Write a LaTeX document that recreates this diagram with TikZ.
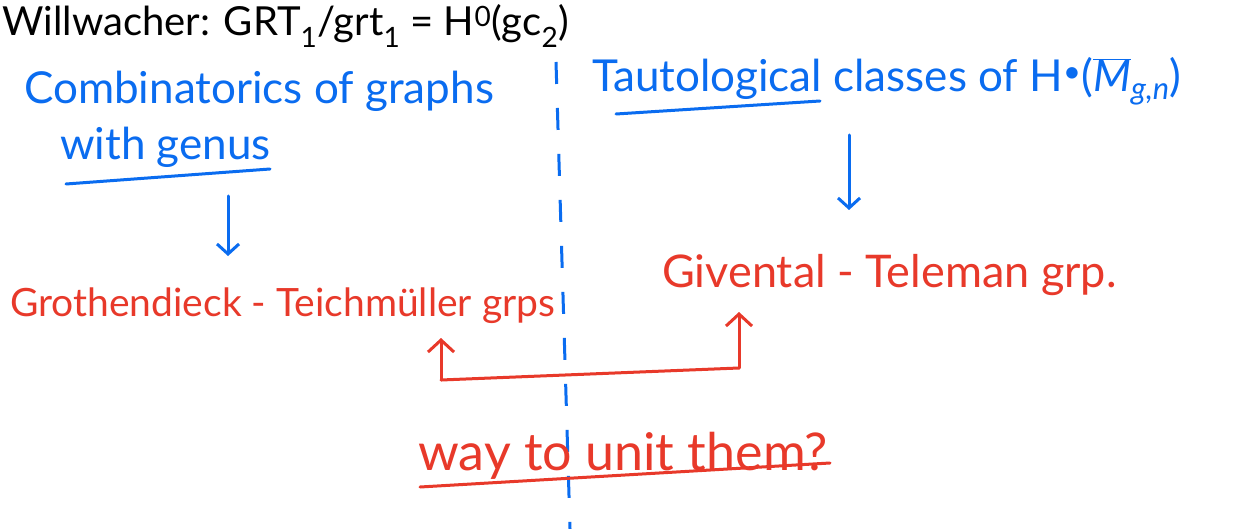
\documentclass[tikz,border=0pt]{standalone}
\usepackage{fontspec}
\setmainfont{Lato}
\usetikzlibrary{arrows.meta}
\definecolor{penblue}{HTML}{0A6CF0}
\definecolor{penred}{HTML}{E8392A}
\tikzset{
  ink/.style={line width=3pt, line cap=round, line join=round},
  bluetxt/.style={text=penblue, inner sep=0pt, anchor=base west},
  redtxt/.style={text=penred, inner sep=0pt, anchor=base west},
  bluearrow/.style={ink, draw=penblue, -{Straight Barb[length=10pt,width=22pt,line width=3pt]}},
  redarrow/.style={ink, draw=penred, -{Straight Barb[length=12pt,width=26pt,line width=3pt]}},
}
\begin{document}
\begin{tikzpicture}[x=1pt,y=-1pt]
\useasboundingbox (0,0) rectangle (1233,529);
\fill[white] (0,0) rectangle (1233,529);

% heading
\node[anchor=base west, inner sep=0pt, font=\fontsize{40}{44}\selectfont] (title) at (2,36)
  {Willwacher: GRT\textsubscript{1}/grt\textsubscript{1} = H\textsuperscript{0}(gc\textsubscript{2})};

% dividing line
\draw[penblue, line width=3pt, dash pattern=on 22pt off 24pt] (556,62) -- (570,529);

% left column
\node[bluetxt, font=\fontsize{44}{48}\selectfont] (comb) at (24,104) {Combinatorics of graphs};
\node[bluetxt, font=\fontsize{44}{48}\selectfont] (genus) at (60,160) {with genus};
\draw[ink, penblue] (66,184) -- (270,169);
\coordinate (la) at (228,196);
\coordinate (lb) at (228,256);
\draw[bluearrow] (la) -- (lb);
\node[redtxt, font=\fontsize{39}{43}\selectfont] (gt) at (10,316) {Grothendieck - Teichmüller grps};

% right column
\node[bluetxt, font=\fontsize{44}{48}\selectfont] (taut) at (592,92)
  {Tautological classes of H\textsuperscript{\textbullet}(\(\overline{\mbox{\itshape M}}\)\textsubscript{\itshape g,n})};
\draw[ink, penblue] (616,114) -- (820,101);
\coordinate (ra) at (849,135);
\coordinate (rb) at (849,210);
\draw[bluearrow] (ra) -- (rb);
\node[redtxt, font=\fontsize{45}{49}\selectfont] (gv) at (662,287) {Givental - Teleman grp.};

% bracket joining the two groups
\coordinate (p1) at (441,380);
\coordinate (p2) at (739,368);
\draw[redarrow] (p1) -- (441,338);
\draw[redarrow] (p2) -- (739,312);
\draw[ink, penred] (p1) -- (p2);

% question
\node[redtxt, font=\fontsize{52}{56}\selectfont] (q) at (418,470) {way to unit them?};
\draw[ink, penred] (420,487) -- (830,463);
\end{tikzpicture}
\end{document}
